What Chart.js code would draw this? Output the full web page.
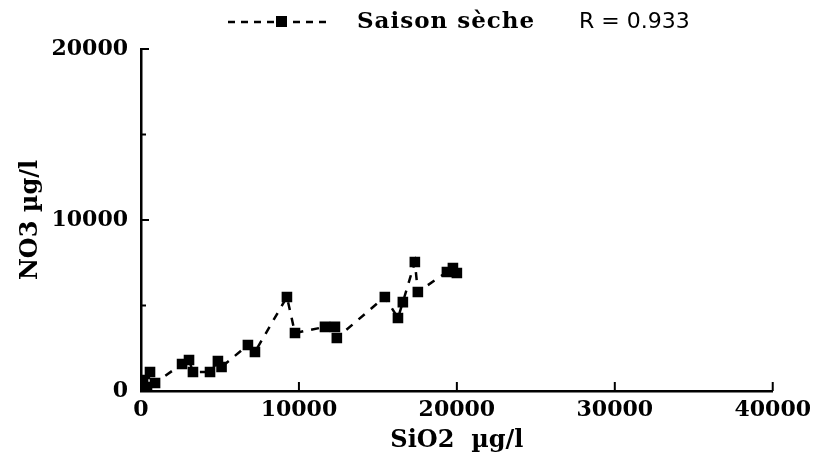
<!DOCTYPE html>
<html>
<head>
<meta charset="utf-8">
<script src="https://cdn.jsdelivr.net/npm/chart.js@4.4.1/dist/chart.umd.min.js"></script>
<style>
  html, body { margin: 0; padding: 0; background: #fff; }
  #wrap { width: 817px; height: 473px; }
</style>
</head>
<body>
<div id="wrap"><canvas id="c"></canvas></div>
<script>
// NO3 vs SiO2, dry season samples (µg/l)
const SIO2 = [130, 380, 570, 890, 2600, 3040, 3290, 4370, 4870, 5100, 6770, 7215,
  9240, 9750, 11650, 12280, 12400, 15440, 16270, 16580, 17340, 17530, 19370, 19750, 20000];
const NO3 = [640, 230, 1110, 470, 1580, 1810, 1110, 1110, 1750, 1400, 2690, 2280,
  5500, 3390, 3750, 3750, 3100, 5500, 4270, 5200, 7540, 5790, 6960, 7190, 6900];

const X_LABELS = [0, 10000, 20000, 30000, 40000];
const Y_LABELS = [0, 10000, 20000];
const SERIES_NAME = 'Saison sèche';
const R_TEXT = 'R = 0.933';

const SERIF = "'DejaVu Serif', serif";
const INK = '#000';

// inward tick marks + legend line drawn by hand
const decor = {
  id: 'decor',
  afterDraw(chart) {
    const { ctx, scales: { x, y } } = chart;
    ctx.save();
    ctx.strokeStyle = INK;
    ctx.lineWidth = 2;
    ctx.setLineDash([]);
    const bottom = y.getPixelForValue(0), left = x.getPixelForValue(0);
    x.ticks.forEach((t) => {
      if (t.value === 0) return;
      const px = x.getPixelForValue(t.value);
      const len = t.value % 10000 === 0 ? 9 : 5;
      ctx.beginPath(); ctx.moveTo(px, bottom); ctx.lineTo(px, bottom - len); ctx.stroke();
    });
    y.ticks.forEach((t) => {
      if (t.value === 0) return;
      const py = y.getPixelForValue(t.value);
      const len = t.value % 10000 === 0 ? 8 : 5;
      ctx.beginPath(); ctx.moveTo(left, py); ctx.lineTo(left + len, py); ctx.stroke();
    });

    // legend
    const ly = 22;
    ctx.lineWidth = 2.5;
    ctx.setLineDash([7, 6]);
    ctx.beginPath(); ctx.moveTo(228, ly); ctx.lineTo(330, ly); ctx.stroke();
    ctx.setLineDash([]);
    ctx.fillStyle = INK;
    ctx.fillRect(276, ly - 6, 11, 11);
    ctx.textBaseline = 'middle';
    ctx.textAlign = 'left';
    ctx.font = "bold 23px " + SERIF;
    ctx.letterSpacing = '1px';
    ctx.fillText(SERIES_NAME, 357, ly);
    ctx.letterSpacing = '0px';
    ctx.font = "22px 'DejaVu Sans', sans-serif";
    ctx.fillText(R_TEXT, 579, ly);
    ctx.restore();
  },
};

const tickFont = { family: SERIF, size: 22, weight: 'bold' };
const titleFont = { family: SERIF, size: 24, weight: 'bold' };

new Chart(document.getElementById('c'), {
  type: 'scatter',
  data: {
    datasets: [{
      label: SERIES_NAME,
      data: SIO2.map((v, i) => ({ x: v, y: NO3[i] })),
      showLine: true,
      borderColor: INK,
      borderWidth: 2.5,
      borderDash: [8, 8],
      backgroundColor: INK,
      pointStyle: 'rect',
      pointRadius: 7.5,
      pointBorderWidth: 0,
    }],
  },
  options: {
    responsive: true,
    maintainAspectRatio: false,
    animation: false,
    layout: { padding: { top: 49, right: 44, left: 0, bottom: 0 } },
    plugins: { legend: { display: false }, tooltip: { enabled: false } },
    scales: {
      x: {
        type: 'linear', min: 0, max: 40000,
        afterFit: (s) => { s.height = 82; },
        ticks: {
          stepSize: 5000, color: INK, font: tickFont, padding: 6, maxRotation: 0,
          callback: (v) => (X_LABELS.includes(v) ? String(v) : ''),
        },
        grid: { drawOnChartArea: false, drawTicks: false },
        border: { display: true, color: INK, width: 2.5 },
        title: { display: true, text: 'SiO2  µg/l', color: INK, font: titleFont, padding: { top: 0, bottom: 18 } },
      },
      y: {
        type: 'linear', min: 0, max: 20000,
        afterFit: (s) => { s.width = 141; },
        ticks: {
          stepSize: 5000, color: INK, font: tickFont, padding: 13,
          callback: (v) => (Y_LABELS.includes(v) ? String(v) : ''),
        },
        grid: { drawOnChartArea: false, drawTicks: false },
        border: { display: true, color: INK, width: 2.5 },
        title: { display: true, text: 'NO3 µg/l', color: INK, font: titleFont, padding: { top: 16, bottom: 0 } },
      },
    },
  },
  plugins: [decor],
});
</script>
</body>
</html>
